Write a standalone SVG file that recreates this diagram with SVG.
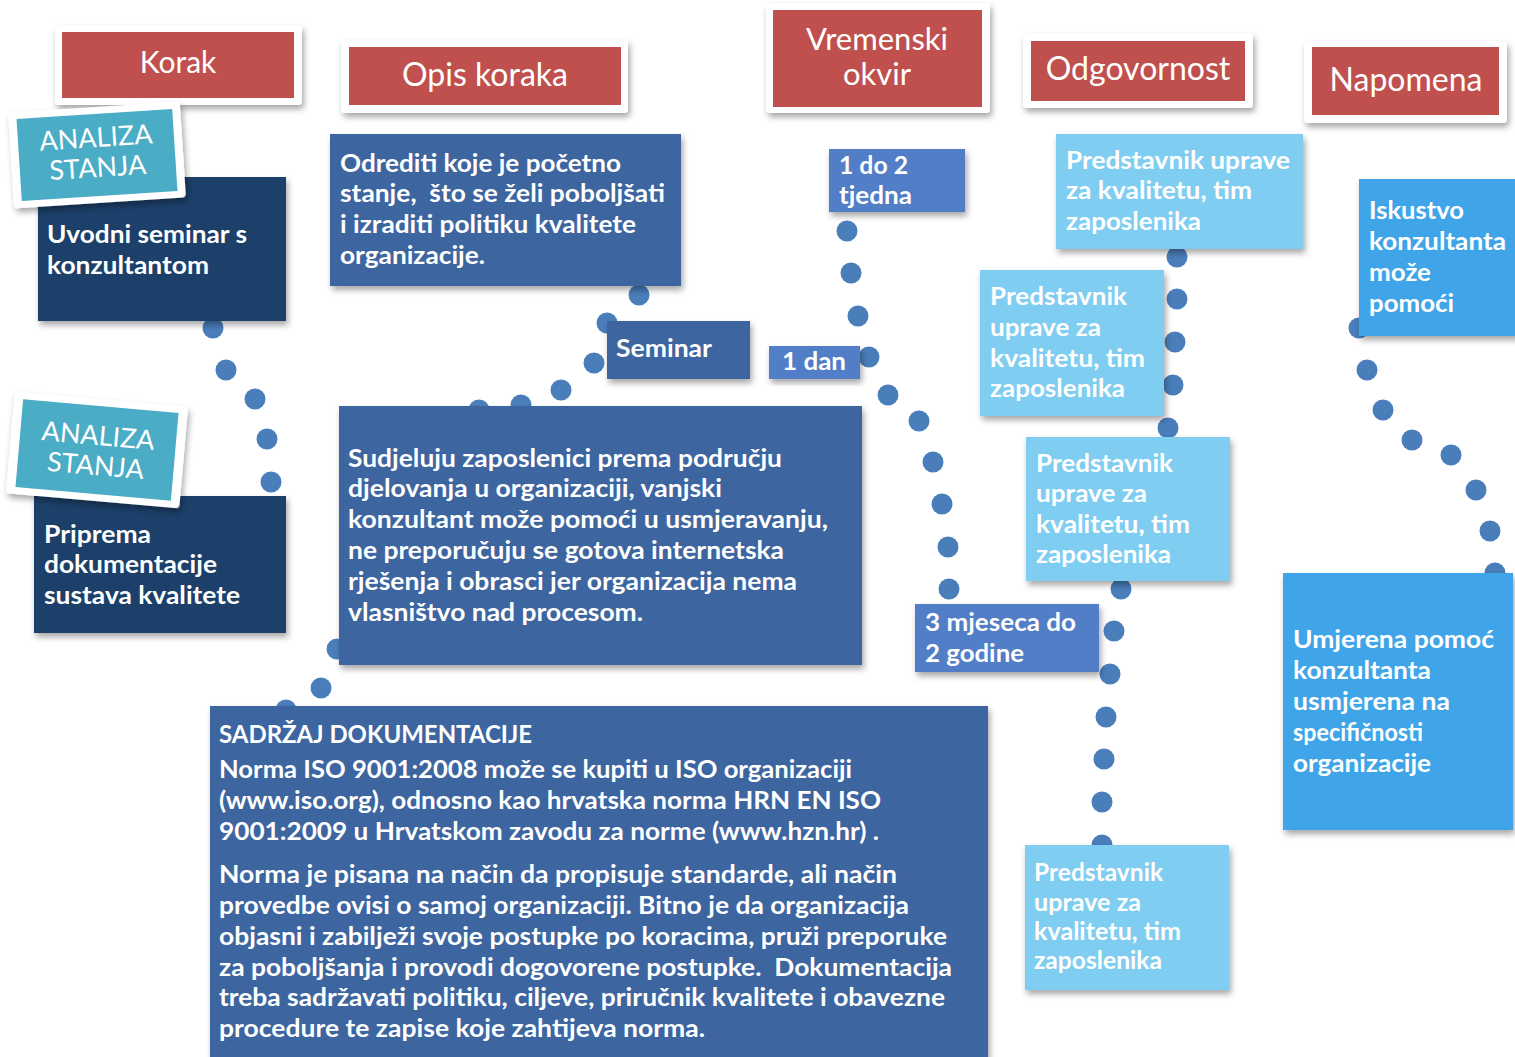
<svg xmlns="http://www.w3.org/2000/svg" width="1515" height="1057" viewBox="0 0 1515 1057">
<style>
.bg{fill:#fff}
.frame{fill:#fff;filter:url(#sh)}
.red{fill:#C0504D}
.h{font-family:Lato,"Open Sans",sans-serif;font-weight:400;fill:#fff;text-anchor:middle}
.t{font-family:Lato,"Open Sans",sans-serif;font-weight:700;fill:#fff;font-size:25px}
.navy{fill:#1F3F6B;filter:url(#sh)}
.mid{fill:#3E65A0;filter:url(#sh)}
.tb{fill:#517EC6;filter:url(#sh)}
.lb{fill:#7FCDF1;filter:url(#sh)}
.nb{fill:#41A5E8;filter:url(#sh)}
.teal{fill:#4BACC6}
.tag{font-family:Lato,"Open Sans",sans-serif;font-weight:400;fill:#fff;font-size:27px;text-anchor:middle}
#connectors circle{fill:#4A7EBB}
</style>
<defs>
<filter id="sh" x="-10%" y="-10%" width="125%" height="130%">
<feDropShadow dx="2" dy="4" stdDeviation="3" flood-color="#000" flood-opacity="0.35"/>
</filter>
</defs>
<rect class="bg" width="1515" height="1057"/>

<g id="connectors">
<circle cx="213" cy="328" r="10.5"/><circle cx="226" cy="370" r="10.5"/><circle cx="255" cy="399" r="10.5"/><circle cx="267" cy="439" r="10.5"/><circle cx="271" cy="482" r="10.5"/>
<circle cx="639" cy="295" r="10.5"/><circle cx="607" cy="323" r="10.5"/><circle cx="594" cy="363" r="10.5"/><circle cx="561" cy="390" r="10.5"/><circle cx="521" cy="405" r="10.5"/><circle cx="479" cy="410" r="10.5"/><circle cx="337" cy="649" r="10.5"/><circle cx="321" cy="688" r="10.5"/><circle cx="286" cy="710" r="10.5"/>
<circle cx="847" cy="231" r="10.5"/><circle cx="851" cy="273" r="10.5"/><circle cx="858" cy="316" r="10.5"/><circle cx="869" cy="357" r="10.5"/><circle cx="888" cy="395" r="10.5"/><circle cx="919" cy="421" r="10.5"/><circle cx="933" cy="462" r="10.5"/><circle cx="942" cy="504" r="10.5"/><circle cx="948" cy="547" r="10.5"/><circle cx="949" cy="589" r="10.5"/><circle cx="950" cy="631" r="10.5"/>
<circle cx="1177" cy="257" r="10.5"/><circle cx="1177" cy="299" r="10.5"/><circle cx="1175" cy="342" r="10.5"/><circle cx="1173" cy="385" r="10.5"/><circle cx="1168" cy="428" r="10.5"/><circle cx="1121" cy="589" r="10.5"/><circle cx="1114" cy="631" r="10.5"/><circle cx="1110" cy="674" r="10.5"/><circle cx="1106" cy="717" r="10.5"/><circle cx="1104" cy="759" r="10.5"/><circle cx="1102" cy="802" r="10.5"/><circle cx="1102" cy="845" r="10.5"/>
<circle cx="1359" cy="328" r="10.5"/><circle cx="1367" cy="370" r="10.5"/><circle cx="1383" cy="410" r="10.5"/><circle cx="1412" cy="440" r="10.5"/><circle cx="1451" cy="455" r="10.5"/><circle cx="1476" cy="490" r="10.5"/><circle cx="1490" cy="531" r="10.5"/><circle cx="1495" cy="573" r="10.5"/>
</g>

<g id="h-korak">
<rect class="frame" x="55" y="25" width="247" height="80" rx="4"/>
<rect class="red" x="62" y="32" width="232" height="66"/>
<text class="h" x="178" y="73" font-size="30">Korak</text>
</g>
<g id="h-opis">
<rect class="frame" x="341" y="40" width="287" height="73" rx="4"/>
<rect class="red" x="349" y="47" width="272" height="58"/>
<text class="h" x="485" y="86" font-size="32">Opis koraka</text>
</g>
<g id="h-vrijeme">
<rect class="frame" x="766" y="3" width="224" height="110" rx="4"/>
<rect class="red" x="773" y="10" width="209" height="97"/>
<text class="h" x="877" y="50" font-size="31">Vremenski</text>
<text class="h" x="877" y="85" font-size="31">okvir</text>
</g>
<g id="h-odg">
<rect class="frame" x="1023" y="33" width="230" height="75" rx="4"/>
<rect class="red" x="1031" y="41" width="214" height="60"/>
<text class="h" x="1138" y="80" font-size="32">Odgovornost</text>
</g>
<g id="h-napomena">
<rect class="frame" x="1304" y="41" width="203" height="82" rx="4"/>
<rect class="red" x="1312" y="47" width="187" height="68"/>
<text class="h" x="1406" y="91" font-size="32">Napomena</text>
</g>

<g id="n-uvodni">
<rect class="navy" x="38" y="177" width="248" height="144"/>
<text class="t" x="47" y="243" textLength="200" lengthAdjust="spacingAndGlyphs">Uvodni seminar s</text>
<text class="t" x="47" y="274" textLength="162" lengthAdjust="spacingAndGlyphs">konzultantom</text>
</g>
<g id="tag1" transform="translate(97,155) rotate(-3.7)">
<rect class="frame" x="-86" y="-48" width="172" height="96" rx="4"/>
<rect class="teal" x="-78" y="-41" width="156" height="82"/>
<text class="tag" x="0" y="-8">ANALIZA</text>
<text class="tag" x="0" y="22">STANJA</text>
</g>

<g id="n-priprema">
<rect class="navy" x="34" y="496" width="252" height="137"/>
<text class="t" x="44" y="543" textLength="107" lengthAdjust="spacingAndGlyphs">Priprema</text>
<text class="t" x="44" y="573" textLength="173" lengthAdjust="spacingAndGlyphs">dokumentacije</text>
<text class="t" x="44" y="604" textLength="196" lengthAdjust="spacingAndGlyphs">sustava kvalitete</text>
</g>
<g id="tag2" transform="translate(97,450) rotate(5)">
<rect class="frame" x="-87" y="-51" width="174" height="102" rx="4"/>
<rect class="teal" x="-78" y="-44" width="156" height="88"/>
<text class="tag" x="0" y="-5">ANALIZA</text>
<text class="tag" x="0" y="25">STANJA</text>
</g>

<g id="n-odrediti">
<rect class="mid" x="330" y="134" width="351" height="152"/>
<text class="t" x="340" y="172" textLength="281" lengthAdjust="spacingAndGlyphs">Odrediti koje je početno</text>
<text class="t" x="340" y="202" textLength="325" lengthAdjust="spacingAndGlyphs" xml:space="preserve">stanje,  što se želi poboljšati</text>
<text class="t" x="340" y="233" textLength="296" lengthAdjust="spacingAndGlyphs">i izraditi politiku kvalitete</text>
<text class="t" x="340" y="264" textLength="145" lengthAdjust="spacingAndGlyphs">organizacije.</text>
</g>
<g id="n-seminar">
<rect class="mid" x="607" y="321" width="143" height="58"/>
<text class="t" x="616" y="357" textLength="96" lengthAdjust="spacingAndGlyphs">Seminar</text>
</g>
<g id="n-sudjeluju">
<rect class="mid" x="339" y="406" width="523" height="259"/>
<text class="t" x="348" y="467" textLength="434" lengthAdjust="spacingAndGlyphs">Sudjeluju zaposlenici prema području</text>
<text class="t" x="348" y="497" textLength="374" lengthAdjust="spacingAndGlyphs">djelovanja u organizaciji, vanjski</text>
<text class="t" x="348" y="528" textLength="480" lengthAdjust="spacingAndGlyphs">konzultant može pomoći u usmjeravanju,</text>
<text class="t" x="348" y="559" textLength="436" lengthAdjust="spacingAndGlyphs">ne preporučuju se gotova internetska</text>
<text class="t" x="348" y="590" textLength="449" lengthAdjust="spacingAndGlyphs">rješenja i obrasci jer organizacija nema</text>
<text class="t" x="348" y="621" textLength="295" lengthAdjust="spacingAndGlyphs">vlasništvo nad procesom.</text>
</g>
<g id="n-sadrzaj">
<rect class="mid" x="210" y="706" width="778" height="360"/>
<text class="t" x="219" y="743" textLength="313" lengthAdjust="spacingAndGlyphs">SADRŽAJ DOKUMENTACIJE</text>
<text class="t" x="219" y="778" textLength="633" lengthAdjust="spacingAndGlyphs">Norma ISO 9001:2008 može se kupiti u ISO organizaciji</text>
<text class="t" x="219" y="809" textLength="662" lengthAdjust="spacingAndGlyphs">(www.iso.org), odnosno kao hrvatska norma HRN EN ISO</text>
<text class="t" x="219" y="840" textLength="660" lengthAdjust="spacingAndGlyphs">9001:2009 u Hrvatskom zavodu za norme (www.hzn.hr) .</text>
<text class="t" x="219" y="883" textLength="678" lengthAdjust="spacingAndGlyphs">Norma je pisana na način da propisuje standarde, ali način</text>
<text class="t" x="219" y="914" textLength="690" lengthAdjust="spacingAndGlyphs">provedbe ovisi o samoj organizaciji. Bitno je da organizacija</text>
<text class="t" x="219" y="945" textLength="728" lengthAdjust="spacingAndGlyphs">objasni i zabilježi svoje postupke po koracima, pruži preporuke</text>
<text class="t" x="219" y="976" textLength="733" lengthAdjust="spacingAndGlyphs" xml:space="preserve">za poboljšanja i provodi dogovorene postupke.  Dokumentacija</text>
<text class="t" x="219" y="1006" textLength="726" lengthAdjust="spacingAndGlyphs">treba sadržavati politiku, ciljeve, priručnik kvalitete i obavezne</text>
<text class="t" x="219" y="1037" textLength="486" lengthAdjust="spacingAndGlyphs">procedure te zapise koje zahtijeva norma.</text>
</g>

<g id="n-tjedna">
<rect class="tb" x="829" y="149" width="136" height="63"/>
<text class="t" x="839" y="174" textLength="69" lengthAdjust="spacingAndGlyphs">1 do 2</text>
<text class="t" x="839" y="204" textLength="73" lengthAdjust="spacingAndGlyphs">tjedna</text>
</g>
<g id="n-dan">
<rect class="tb" x="769" y="346" width="91" height="33"/>
<text class="t" x="782" y="370" textLength="64" lengthAdjust="spacingAndGlyphs">1 dan</text>
</g>
<g id="n-mjeseca">
<rect class="tb" x="915" y="604" width="184" height="68"/>
<text class="t" x="925" y="631" textLength="151" lengthAdjust="spacingAndGlyphs">3 mjeseca do</text>
<text class="t" x="925" y="662" textLength="99" lengthAdjust="spacingAndGlyphs">2 godine</text>
</g>

<g id="n-odg1">
<rect class="lb" x="1056" y="134" width="247" height="115"/>
<text class="t" x="1066" y="169" textLength="224" lengthAdjust="spacingAndGlyphs">Predstavnik uprave</text>
<text class="t" x="1066" y="199" textLength="186" lengthAdjust="spacingAndGlyphs">za kvalitetu, tim</text>
<text class="t" x="1066" y="230" textLength="135" lengthAdjust="spacingAndGlyphs">zaposlenika</text>
</g>
<g id="n-odg2">
<rect class="lb" x="980" y="270" width="184" height="146"/>
<text class="t" x="990" y="305" textLength="137" lengthAdjust="spacingAndGlyphs">Predstavnik</text>
<text class="t" x="990" y="336" textLength="111" lengthAdjust="spacingAndGlyphs">uprave za</text>
<text class="t" x="990" y="367" textLength="155" lengthAdjust="spacingAndGlyphs">kvalitetu, tim</text>
<text class="t" x="990" y="397" textLength="135" lengthAdjust="spacingAndGlyphs">zaposlenika</text>
</g>
<g id="n-odg3">
<rect class="lb" x="1026" y="437" width="204" height="144"/>
<text class="t" x="1036" y="472" textLength="137" lengthAdjust="spacingAndGlyphs">Predstavnik</text>
<text class="t" x="1036" y="502" textLength="111" lengthAdjust="spacingAndGlyphs">uprave za</text>
<text class="t" x="1036" y="533" textLength="154" lengthAdjust="spacingAndGlyphs">kvalitetu, tim</text>
<text class="t" x="1036" y="563" textLength="135" lengthAdjust="spacingAndGlyphs">zaposlenika</text>
</g>
<g id="n-odg4">
<rect class="lb" x="1025" y="845" width="204" height="145"/>
<text class="t" x="1034" y="881" font-size="23" textLength="129" lengthAdjust="spacingAndGlyphs">Predstavnik</text>
<text class="t" x="1034" y="911" font-size="23" textLength="107" lengthAdjust="spacingAndGlyphs">uprave za</text>
<text class="t" x="1034" y="940" font-size="23" textLength="147" lengthAdjust="spacingAndGlyphs">kvalitetu, tim</text>
<text class="t" x="1034" y="969" font-size="23" textLength="128" lengthAdjust="spacingAndGlyphs">zaposlenika</text>
</g>

<g id="n-iskustvo">
<rect class="nb" x="1359" y="179" width="160" height="157"/>
<text class="t" x="1369" y="219" textLength="95" lengthAdjust="spacingAndGlyphs">Iskustvo</text>
<text class="t" x="1369" y="250" textLength="137" lengthAdjust="spacingAndGlyphs">konzultanta</text>
<text class="t" x="1369" y="281" textLength="62" lengthAdjust="spacingAndGlyphs">može</text>
<text class="t" x="1369" y="312" textLength="85" lengthAdjust="spacingAndGlyphs">pomoći</text>
</g>
<g id="n-umjerena">
<rect class="nb" x="1283" y="573" width="230" height="257"/>
<text class="t" x="1293" y="648" textLength="201" lengthAdjust="spacingAndGlyphs">Umjerena pomoć</text>
<text class="t" x="1293" y="679" textLength="138" lengthAdjust="spacingAndGlyphs">konzultanta</text>
<text class="t" x="1293" y="710" textLength="157" lengthAdjust="spacingAndGlyphs">usmjerena na</text>
<text class="t" x="1293" y="741" textLength="130" lengthAdjust="spacingAndGlyphs">specifičnosti</text>
<text class="t" x="1293" y="772" textLength="138" lengthAdjust="spacingAndGlyphs">organizacije</text>
</g>
</svg>
